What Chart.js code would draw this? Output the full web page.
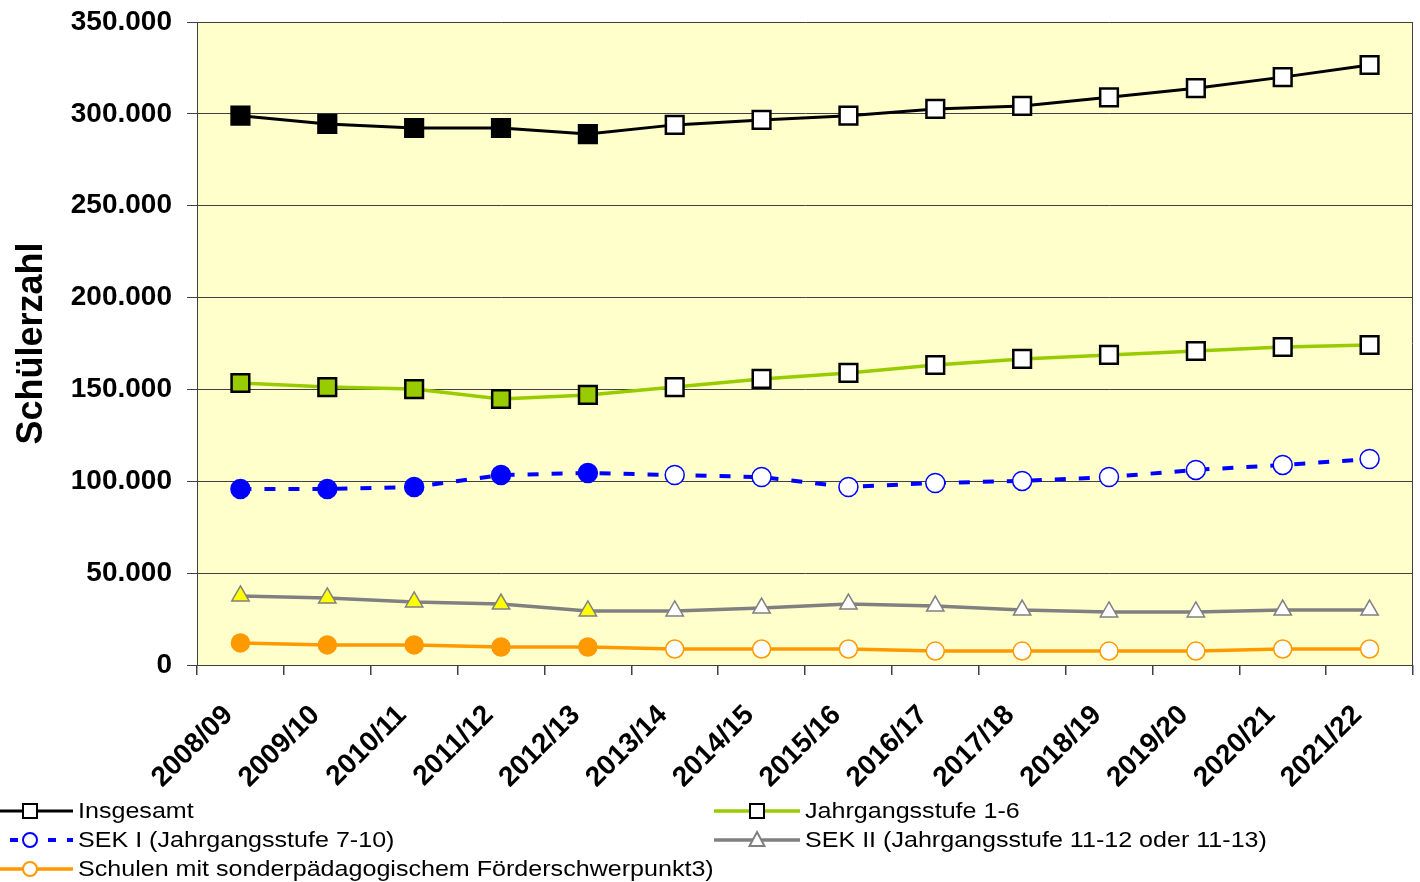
<!DOCTYPE html>
<html><head><meta charset="utf-8">
<script src="https://cdn.jsdelivr.net/npm/chart.js@4"></script>
<style>html,body{margin:0;padding:0;background:#fff;overflow:hidden}#wrap{width:1420px;height:882px;position:relative;overflow:hidden}canvas{display:block}</style>
</head><body><div id="wrap"><canvas id="c" width="1428" height="882"></canvas></div>
<script>
const categories = ['2008/09','2009/10','2010/11','2011/12','2012/13','2013/14','2014/15','2015/16','2016/17','2017/18','2018/19','2019/20','2020/21','2021/22'];
const insgesamt = [299000,294500,292300,292300,289000,294000,296700,299000,302700,304300,309000,314000,320000,326600];
const jahrgang16 = [153500,151300,150200,144800,147000,151300,155700,159000,163300,166600,168800,170900,173100,174200];
const sek1 = [95800,95800,96900,103400,104500,103400,102300,96900,99100,100200,102300,106200,108900,112100];
const sek2 = [37600,36500,34300,33200,29400,29400,31000,33200,32100,29900,28900,28900,29900,29900];
const foerder = [12000,10900,10900,9800,9800,8700,8700,8700,7600,7600,7600,7600,8700,8700];
const yTicks = [0,50000,100000,150000,200000,250000,300000,350000];
const labels = ['Insgesamt','Jahrgangsstufe 1-6','SEK I (Jahrgangsstufe 7-10)','SEK II (Jahrgangsstufe 11-12 oder 11-13)','Schulen mit sonderpädagogischem Förderschwerpunkt3)'];
const filledCount = 5; // Ist-Werte (gefüllte Marker)

const BG = '#FFFFCC';
const fillArr = (data, c) => data.map((_, i) => i < filledCount ? c : '#FFFFFF');
const fmt = v => String(v).replace(/\B(?=(\d{3})+(?!\d))/g, '.');

const datasets = [
  {label: labels[0], data: insgesamt, borderColor: '#000000', borderWidth: 3, pointStyle: 'rect', pointRadius: 12.5, pointHoverRadius: 12.5,
   pointBackgroundColor: fillArr(insgesamt, '#000000'), pointBorderColor: '#000000', pointBorderWidth: 2.5},
  {label: labels[1], data: jahrgang16, borderColor: '#99CC00', borderWidth: 3.5, pointStyle: 'rect', pointRadius: 12.5, pointHoverRadius: 12.5,
   pointBackgroundColor: fillArr(jahrgang16, '#99CC00'), pointBorderColor: '#000000', pointBorderWidth: 2.5},
  {label: labels[2], data: sek1, borderColor: '#0000FF', borderWidth: 4, borderDash: [11, 13], pointStyle: 'circle', pointRadius: 9.5, pointHoverRadius: 9.5,
   pointBackgroundColor: fillArr(sek1, '#0000FF'), pointBorderColor: '#0000FF', pointBorderWidth: 1.5},
  {label: labels[3], data: sek2, borderColor: '#808080', borderWidth: 3.5, pointStyle: 'triangle', pointRadius: 10, pointHoverRadius: 10,
   pointBackgroundColor: fillArr(sek2, '#FFFF00'), pointBorderColor: '#808080', pointBorderWidth: 1.5},
  {label: labels[4], data: foerder, borderColor: '#FF9900', borderWidth: 3.5, pointStyle: 'circle', pointRadius: 9, pointHoverRadius: 9,
   pointBackgroundColor: fillArr(foerder, '#FF9900'), pointBorderColor: '#FF9900', pointBorderWidth: 1.5}
];
datasets.forEach(d => { d.tension = 0; d.fill = false; d.clip = false; });

const bgPlugin = {
  id: 'bg',
  beforeDraw(chart) {
    const {ctx, chartArea: a} = chart;
    ctx.save();
    ctx.fillStyle = BG;
    ctx.fillRect(a.left, a.top, a.right - a.left, a.bottom - a.top);
    ctx.restore();
  },
  beforeDatasetsDraw(chart) {
    const {ctx, chartArea: a} = chart;
    ctx.save();
    ctx.strokeStyle = '#404040';
    ctx.lineWidth = 1;
    ctx.beginPath();
    ctx.moveTo(Math.round(a.right) - 0.5, a.top);
    ctx.lineTo(Math.round(a.right) - 0.5, a.bottom);
    ctx.stroke();
    ctx.restore();
  }
};

const legendLayout = [
  {i: 0, x0: 0, x1: 73, mx: 30, tx: 78, y: 811, dash: null},
  {i: 1, x0: 714, x1: 800, mx: 757, tx: 805, y: 811, dash: null},
  {i: 2, x0: 10, x1: 73, mx: 30, tx: 78, y: 840, dash: [8, 11]},
  {i: 3, x0: 714, x1: 800, mx: 757, tx: 805, y: 840, dash: null},
  {i: 4, x0: 0, x1: 73, mx: 30, tx: 78, y: 869, dash: null}
];

const legendPlugin = {
  id: 'customLegend',
  afterDraw(chart) {
    const ctx = chart.ctx;
    legendLayout.forEach(L => {
      const d = chart.data.datasets[L.i];
      ctx.save();
      ctx.strokeStyle = d.borderColor;
      ctx.lineWidth = d.borderWidth;
      if (L.dash) ctx.setLineDash(L.dash);
      ctx.beginPath();
      ctx.moveTo(L.x0, L.y);
      ctx.lineTo(L.x1, L.y);
      ctx.stroke();
      ctx.setLineDash([]);
      ctx.fillStyle = '#FFFFFF';
      ctx.strokeStyle = d.pointBorderColor;
      ctx.lineWidth = 2;
      if (d.pointStyle === 'rect') {
        ctx.fillRect(L.mx - 7, L.y - 7, 14, 14);
        ctx.strokeRect(L.mx - 7, L.y - 7, 14, 14);
      } else if (d.pointStyle === 'circle') {
        ctx.beginPath(); ctx.arc(L.mx, L.y, 7, 0, Math.PI * 2); ctx.fill(); ctx.stroke();
      } else {
        ctx.beginPath(); ctx.moveTo(L.mx, L.y - 8); ctx.lineTo(L.mx + 7.5, L.y + 6); ctx.lineTo(L.mx - 7.5, L.y + 6); ctx.closePath(); ctx.fill(); ctx.stroke();
      }
      ctx.translate(L.tx, L.y);
      ctx.scale(1.14, 1);
      ctx.fillStyle = '#000000';
      ctx.font = '22px "Liberation Sans", Arial, sans-serif';
      ctx.textBaseline = 'middle';
      ctx.fillText(d.label, 0, 1);
      ctx.restore();
    });
  }
};

new Chart(document.getElementById('c'), {
  type: 'line',
  data: {labels: categories, datasets},
  options: {
    responsive: false,
    devicePixelRatio: 1,
    animation: false,
    events: [],
    layout: {padding: {left: 0, top: 22, right: 0, bottom: 95}},
    plugins: {legend: {display: false}, tooltip: {enabled: false}},
    scales: {
      x: {
        type: 'category',
        offset: true,
        grid: {offset: true, drawOnChartArea: false, drawTicks: true, tickLength: 10, color: '#404040', lineWidth: 1.5},
        border: {display: true, color: '#404040', width: 1},
        ticks: {maxRotation: 45, minRotation: 45, autoSkip: false, padding: 24, labelOffset: -12, color: '#000000',
                font: {family: '"Liberation Sans", Arial, sans-serif', size: 28, weight: 'bold'}},
        afterFit(scale) { scale.height = 122; scale.paddingLeft = 0; scale.paddingRight = 0; }
      },
      y: {
        min: 0, max: 350000,
        afterBuildTicks(scale) { scale.ticks = yTicks.map(v => ({value: v})); },
        grid: {color: '#404040', lineWidth: 1, tickLength: 10, drawTicks: true},
        border: {display: true, color: '#404040', width: 1},
        ticks: {padding: 15, color: '#000000', callback: v => fmt(v),
                font: {family: '"Liberation Sans", Arial, sans-serif', size: 28, weight: 'bold'}},
        title: {display: true, text: 'Schülerzahl', color: '#000000', padding: {top: 10, bottom: 0},
                font: {family: '"Liberation Sans", Arial, sans-serif', size: 36, weight: 'bold'}},
        afterFit(scale) { scale.width = 197; scale.paddingTop = 0; scale.paddingBottom = 0; }
      }
    }
  },
  plugins: [bgPlugin, legendPlugin]
});
</script>
</body></html>
